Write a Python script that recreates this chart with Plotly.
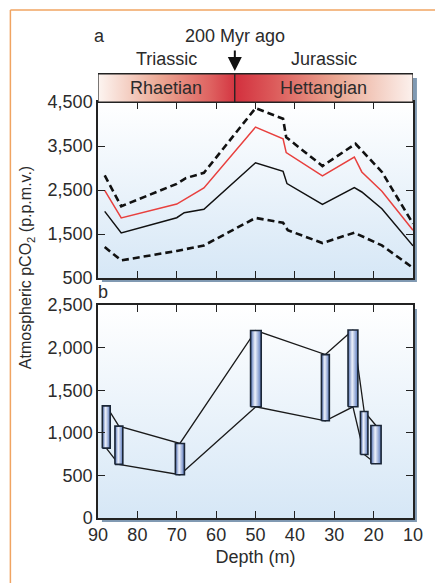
import plotly.graph_objects as go

# ---------------- data ----------------
# Panel a: modelled pCO2 (p.p.m.v.) vs depth (m)
upper_depth = [88.3, 84.1, 70.0, 67.7, 63.1, 50.0, 43.0, 42.2, 33.0, 24.6, 17.9, 10.0]
upper_val   = [2830, 2130, 2640, 2770, 2890, 4360, 4120, 3700, 3045, 3550, 2910, 1735]
red_depth   = [88.3, 84.1, 70.0, 63.1, 50.0, 43.0, 42.2, 33.0, 24.9, 23.0, 17.9, 10.0]
red_val     = [2490, 1865, 2180, 2545, 3930, 3665, 3350, 2820, 3250, 2910, 2470, 1585]
mid_depth   = [88.3, 84.1, 70.0, 68.1, 63.1, 50.0, 43.0, 42.0, 33.0, 24.9, 23.0, 17.9, 10.0]
mid_val     = [2015, 1525, 1870, 1985, 2060, 3120, 2925, 2645, 2175, 2555, 2455, 2075, 1230]
lower_depth = [88.3, 84.1, 70.0, 63.1, 50.0, 43.0, 41.8, 33.0, 24.9, 17.9, 10.0]
lower_val   = [1205, 900, 1115, 1240, 1865, 1755, 1585, 1295, 1530, 1240, 730]

# Panel b: stomatal pCO2 ranges
bar_depth = [87.9, 84.7, 69.2, 49.9, 32.25, 25.25, 22.4, 19.4]
bar_high  = [1316, 1078, 875, 2200, 1918, 2207, 1250, 1086]
bar_low   = [820, 629, 508, 1305, 1141, 1305, 746, 637]

boundary_depth = 55.25          # Triassic/Jurassic boundary, 200 Myr ago
stages = ["Rhaetian", "Hettangian"]
periods = ["Triassic", "Jurassic"]
depth_ticks = [90, 80, 70, 60, 50, 40, 30, 20, 10]
a_ticks = [500, 1500, 2500, 3500, 4500]
b_ticks = [0, 500, 1000, 1500, 2000, 2500]
depth_range = [90, 10]

# ---------------- styles ----------------
bar_widths = [2.0, 2.0, 2.3, 2.7, 2.0, 2.5, 1.9, 2.6]
FONT = "Liberation Sans, Arial, sans-serif"
TXT = "#2b2b2b"
W, H = 435, 583
L, R, T, B = 98, 418, 74, 518


def px2x(px):
    return (px - L) / (R - L)


def py2y(py):
    return (B - py) / (B - T)


dom_b = [0, py2y(305)]
dom_a = [py2y(278), py2y(102)]
dom_h = [py2y(102), 1.0]

fig = go.Figure()

# backgrounds (vertical gradients)
bg_scale = [[0, "#d6e7f6"], [1, "#ffffff"]]
for xa, ya, yr in [("x", "y", [0, 2500]), ("x2", "y2", [500, 4500])]:
    fig.add_trace(go.Scatter(
        x=[depth_range[0], depth_range[1], depth_range[1], depth_range[0], depth_range[0]],
        y=[yr[0], yr[0], yr[1], yr[1], yr[0]],
        xaxis=xa, yaxis=ya, mode="lines", line=dict(width=0),
        fill="toself", fillgradient=dict(type="vertical", colorscale=bg_scale),
        hoverinfo="skip", showlegend=False))

# header band
rh_scale = [[0, "#fdf5f1"], [0.45, "#eba793"], [0.8, "#df6462"], [1, "#d3323f"]]
he_scale = [[0, "#d3323f"], [0.2, "#dc5a5a"], [0.55, "#eaa792"], [1, "#fdf6f3"]]
for (x0, x1), sc in [((depth_range[0], boundary_depth), rh_scale),
                     ((boundary_depth, depth_range[1]), he_scale)]:
    fig.add_trace(go.Scatter(
        x=[x0, x1, x1, x0, x0], y=[0, 0, 1, 1, 0], xaxis="x3", yaxis="y3",
        mode="lines", line=dict(width=1.2, color="#222"),
        fill="toself",
        fillgradient=dict(type="horizontal", colorscale=sc, start=x0, stop=x1),
        hoverinfo="skip", showlegend=False))

# panel a lines
dash = "7px,4px"
fig.add_trace(go.Scatter(x=upper_depth, y=upper_val, xaxis="x2", yaxis="y2", mode="lines",
                         line=dict(color="#111", width=2.6, dash=dash), showlegend=False))
fig.add_trace(go.Scatter(x=lower_depth, y=lower_val, xaxis="x2", yaxis="y2", mode="lines",
                         line=dict(color="#111", width=2.6, dash=dash), showlegend=False))
fig.add_trace(go.Scatter(x=red_depth, y=red_val, xaxis="x2", yaxis="y2", mode="lines",
                         line=dict(color="#e8403e", width=1.5), showlegend=False))
fig.add_trace(go.Scatter(x=mid_depth, y=mid_val, xaxis="x2", yaxis="y2", mode="lines",
                         line=dict(color="#111", width=1.5), showlegend=False))

# panel b connecting lines
for vals in (bar_high, bar_low):
    fig.add_trace(go.Scatter(x=bar_depth, y=vals, xaxis="x", yaxis="y", mode="lines",
                             line=dict(color="#1a1a1a", width=1.3), showlegend=False))

# panel b bars (cylindrical gradient)
bar_scale = [[0, "#4d6db3"], [0.42, "#eef2fb"], [1, "#5676bb"]]
for d, hi, lo, w in zip(bar_depth, bar_high, bar_low, bar_widths):
    x0, x1 = d + w / 2, d - w / 2
    fig.add_trace(go.Scatter(
        x=[x0, x1, x1, x0, x0], y=[lo, lo, hi, hi, lo], xaxis="x", yaxis="y",
        mode="lines", line=dict(color="#1b2636", width=1.6),
        fill="toself", fillgradient=dict(type="horizontal", colorscale=bar_scale),
        hoverinfo="skip", showlegend=False))

axis_common = dict(showline=True, linecolor="#222", linewidth=1.5, mirror="ticks",
                   ticks="inside", ticklen=7, tickwidth=1.3, tickcolor="#222",
                   showgrid=False, zeroline=False,
                   tickfont=dict(family=FONT, size=18, color=TXT))

fig.update_layout(
    width=W, height=H,
    margin=dict(l=L, r=W - R, t=T, b=H - B),
    paper_bgcolor="white", plot_bgcolor="white",
    font=dict(family=FONT, color=TXT),
    xaxis=dict(domain=[0, 1], anchor="y", range=depth_range, tickvals=depth_ticks,
               title=dict(text="Depth (m)", font=dict(size=18, family=FONT, color=TXT), standoff=6),
               **axis_common),
    xaxis2=dict(domain=[0, 1], anchor="y2", range=depth_range, tickvals=depth_ticks,
                showticklabels=False, **axis_common),
    xaxis3=dict(domain=[0, 1], anchor="y3", range=depth_range, showticklabels=False,
                ticks="", showline=True, linecolor="#222", linewidth=1.2, mirror=True,
                showgrid=False, zeroline=False),
    yaxis=dict(domain=dom_b, anchor="x", range=[0, 2500], tickvals=b_ticks,
               tickformat=",", **axis_common),
    yaxis2=dict(domain=dom_a, anchor="x2", range=[500, 4500], tickvals=a_ticks,
                tickformat=",", **axis_common),
    yaxis3=dict(domain=dom_h, anchor="x3", range=[0, 1], showticklabels=False,
                ticks="", showline=False, showgrid=False, zeroline=False),
)

# shadows and orange frame
shadow = "#8099b2"
shapes = [
    dict(type="rect", xref="paper", yref="paper", layer="below",
         x0=px2x(L + 4), x1=px2x(R + 4), y0=py2y(282), y1=py2y(T + 4),
         fillcolor=shadow, line=dict(width=0)),
    dict(type="rect", xref="paper", yref="paper", layer="below",
         x0=px2x(L + 4), x1=px2x(R + 4), y0=py2y(B + 4), y1=py2y(309),
         fillcolor=shadow, line=dict(width=0)),
    dict(type="line", xref="paper", yref="paper", x0=px2x(9), x1=px2x(9),
         y0=py2y(10), y1=py2y(600), line=dict(color="#f0a462", width=1.5)),
    dict(type="line", xref="paper", yref="paper", x0=px2x(9), x1=px2x(450),
         y0=py2y(10), y1=py2y(10), line=dict(color="#f0a462", width=1.5)),
]
fig.update_layout(shapes=shapes)

ann = []
f18 = dict(family=FONT, size=18, color=TXT)
ann.append(dict(text="a", xref="paper", yref="paper", x=px2x(100), y=py2y(36),
                showarrow=False, font=f18, xanchor="center", yanchor="middle"))
ann.append(dict(text="b", xref="paper", yref="paper", x=px2x(103), y=py2y(292),
                showarrow=False, font=f18, xanchor="center", yanchor="middle"))
ann.append(dict(text="200 Myr ago", xref="x3", yref="paper", x=boundary_depth, y=py2y(36),
                showarrow=False, font=f18, xanchor="center", yanchor="middle"))
ann.append(dict(text="", xref="x3", yref="paper", x=boundary_depth, y=py2y(71),
                ax=0, ay=-22, showarrow=True, arrowhead=2, arrowsize=1.4,
                arrowwidth=2, arrowcolor="#111"))
mid_rh = (depth_range[0] + boundary_depth) / 2
mid_he = (boundary_depth + depth_range[1]) / 2
for txt, xv in zip(periods, [mid_rh, mid_he]):
    ann.append(dict(text=txt, xref="x3", yref="paper", x=xv, y=py2y(59),
                    showarrow=False, font=f18, xanchor="center", yanchor="middle"))
for txt, xv in zip(stages, [mid_rh, mid_he]):
    ann.append(dict(text=txt, xref="x3", yref="y3", x=xv, y=0.5,
                    showarrow=False, font=f18, xanchor="center", yanchor="middle"))
ann.append(dict(text="Atmospheric pCO<sub>2</sub> (p.p.m.v.)", xref="paper", yref="paper",
                x=px2x(25), y=py2y(268), textangle=-90, showarrow=False,
                font=dict(family=FONT, size=16, color=TXT),
                xanchor="center", yanchor="middle"))
fig.update_layout(annotations=ann)

fig.write_html("out.html", config={"displayModeBar": False},
               post_script="document.body.style.margin='0px';document.body.style.overflow='hidden';")
